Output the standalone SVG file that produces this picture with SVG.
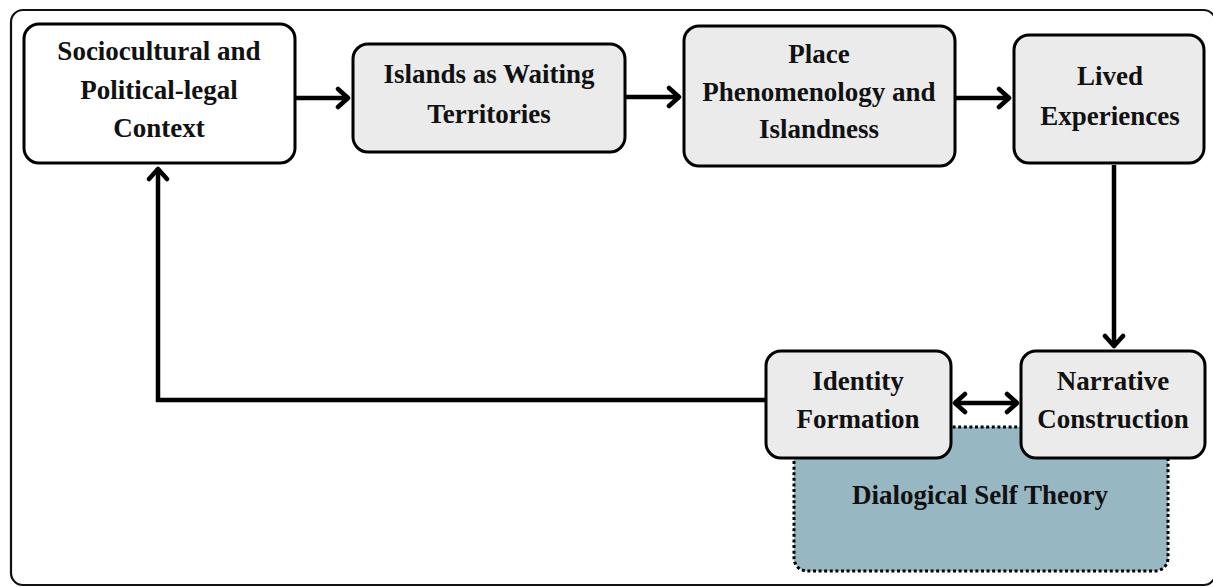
<svg xmlns="http://www.w3.org/2000/svg" width="1213" height="588" viewBox="0 0 1213 588">
<style>
.box{stroke:#000;stroke-width:3}
.w{fill:#fff}
.g{fill:#ebebeb}
.t{font-family:"Liberation Serif","Times New Roman",serif;font-weight:bold;font-size:27px;fill:#111;text-anchor:middle}
.c{stroke:#000;stroke-width:4.5;fill:none}
</style>
<defs>
<marker id="ah" markerUnits="userSpaceOnUse" viewBox="-14 -12 18 24" refX="0" refY="0" markerWidth="18" markerHeight="24" orient="auto-start-reverse">
<path d="M-11,-9 L-1,0 L-11,9" fill="none" stroke="#000" stroke-width="4.5" stroke-linecap="round" stroke-linejoin="round"/>
</marker>
</defs>
<rect x="0" y="0" width="1213" height="588" fill="#fff"/>
<rect id="frame" x="11" y="10" width="1204.5" height="575" rx="12" fill="none" stroke="#111" stroke-width="2.2"/>

<g id="dialogical">
<rect x="794" y="427" width="374" height="144" rx="13" fill="#97b8c3" stroke="#000" stroke-width="3" stroke-dasharray="3 2.6"/>
<text class="t" x="980" y="504">Dialogical Self Theory</text>
</g>

<g id="connectors">
<line class="c" x1="296" y1="98" x2="349" y2="98" marker-end="url(#ah)"/>
<line class="c" x1="626" y1="97" x2="680" y2="97" marker-end="url(#ah)"/>
<line class="c" x1="956" y1="98" x2="1010" y2="98" marker-end="url(#ah)"/>
<line class="c" x1="1114" y1="165" x2="1114" y2="347" marker-end="url(#ah)"/>
<line class="c" x1="954" y1="403" x2="1018" y2="403" marker-start="url(#ah)" marker-end="url(#ah)"/>
<polyline class="c" points="765,400 158,400 158,168" stroke-linejoin="miter" marker-end="url(#ah)"/>
</g>

<g id="n1">
<rect class="box w" x="24" y="24" width="271" height="139" rx="15"/>
<text class="t" x="159" y="60">Sociocultural and</text>
<text class="t" x="159" y="99">Political-legal</text>
<text class="t" x="159" y="137">Context</text>
</g>
<g id="n2">
<rect class="box g" x="353" y="44" width="272" height="108" rx="15"/>
<text class="t" x="489" y="83">Islands as Waiting</text>
<text class="t" x="489" y="123">Territories</text>
</g>
<g id="n3">
<rect class="box g" x="684" y="26" width="271" height="140" rx="15"/>
<text class="t" x="819" y="63">Place</text>
<text class="t" x="819" y="101">Phenomenology and</text>
<text class="t" x="819" y="138">Islandness</text>
</g>
<g id="n4">
<rect class="box g" x="1014" y="35" width="190" height="128" rx="15"/>
<text class="t" x="1110" y="85">Lived</text>
<text class="t" x="1110" y="125">Experiences</text>
</g>
<g id="n5">
<rect class="box g" x="766" y="351" width="185" height="107" rx="15"/>
<text class="t" x="858" y="390">Identity</text>
<text class="t" x="858" y="428">Formation</text>
</g>
<g id="n6">
<rect class="box g" x="1021" y="351" width="184" height="107" rx="15"/>
<text class="t" x="1113" y="390">Narrative</text>
<text class="t" x="1113" y="428">Construction</text>
</g>
</svg>
